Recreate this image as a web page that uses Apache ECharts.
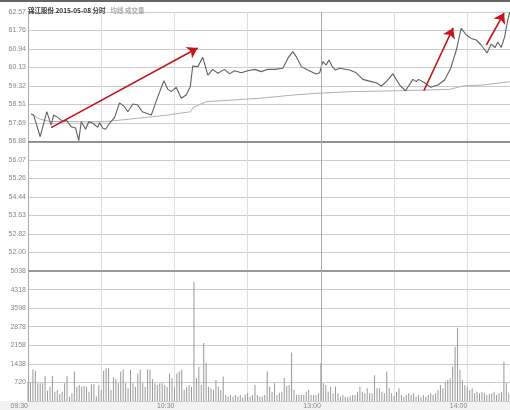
<!DOCTYPE html>
<html><head><meta charset="utf-8">
<script src="https://cdn.jsdelivr.net/npm/echarts@6/dist/echarts.min.js"></script>
<style>html,body{margin:0;padding:0;background:#fff}#c{width:510px;height:410px}</style>
</head><body><div id="c"></div>
<script>
const stockName = '锦江股份';
const tradeDate = '2015-05-08';
const titleMain = '分时';
const titleSub = '均线 成交量';
const priceTickLabels = ['', '52.00', '52.82', '53.63', '54.44', '55.26', '56.07', '56.88', '57.69', '58.51', '59.32', '60.13', '60.94', '61.76', '62.57'];
const volumeTickLabels = ['', '720', '1438', '2158', '2878', '3598', '4318', '5038'];
const timeTickMinutes = [0, 60, 120, 180];
const timeTickLabels = ['09:30', '10:30', '13:00', '14:00'];
const preClose = 56.88;
const priceMin = 51.19, priceMax = 62.57;
const volumeMax = 5038;
const lunchMinute = 120;
const xMax = 197.5;

// [minute since 09:30 (trading time), price]
const pricePoints = [[1.3,58.09],[2.3,58.04],[5.0,57.09],[7.7,58.19],[9.5,57.60],[10.5,58.04],[12.2,57.94],[14.3,57.75],[15.7,57.82],[17.7,57.53],[19.5,57.47],[20.8,56.92],[21.8,57.75],[23.6,57.42],[24.9,57.75],[26.6,57.68],[28.6,57.50],[29.3,57.71],[30.7,57.46],[31.8,57.42],[33.4,57.68],[35.5,57.94],[37.5,58.58],[39.5,58.41],[40.9,58.19],[43.0,58.53],[45.0,58.48],[46.8,58.19],[50.5,58.04],[53.2,58.85],[55.7,59.55],[57.3,59.17],[58.7,59.07],[60.7,59.26],[62.8,58.78],[64.8,58.92],[66.5,59.29],[67.5,60.20],[69.6,60.17],[71.6,60.58],[73.7,59.80],[75.7,60.05],[77.8,59.88],[80.5,60.05],[82.6,59.85],[84.6,59.99],[87.4,59.90],[90.1,59.99],[92.8,60.05],[95.6,59.95],[98.3,60.05],[101.0,60.05],[104.4,60.10],[106.5,60.54],[108.5,60.83],[109.9,60.61],[112.0,60.17],[114.0,60.05],[116.1,59.95],[118.1,59.85],[119.5,59.90],[120.8,60.39],[122.2,60.24],[123.3,60.46],[124.7,60.17],[126.0,60.02],[127.7,60.10],[131.8,60.02],[134.5,59.90],[137.2,59.61],[140.7,59.51],[142.7,59.46],[144.8,59.32],[146.8,59.51],[149.5,59.85],[152.3,59.36],[154.7,59.11],[157.7,59.61],[159.1,59.51],[160.0,59.61],[162.5,59.46],[165.0,59.26],[168.0,59.36],[170.7,59.58],[173.2,60.10],[175.5,60.90],[177.5,61.85],[179.6,61.56],[181.6,61.41],[183.7,61.34],[185.7,61.12],[188.1,60.77],[189.8,61.16],[191.4,61.01],[192.5,61.25],[193.9,61.01],[195.3,61.48],[196.6,62.22],[197.4,62.57]];

const avgPoints = [[1.3,58.09],[4.7,57.87],[8.8,57.76],[21.1,57.75],[31.4,57.75],[44.9,57.90],[57.2,58.04],[66.7,58.19],[67.6,58.37],[73.0,58.63],[83.8,58.70],[95.0,58.78],[108.4,58.92],[118.6,59.00],[131.8,59.07],[152.3,59.11],[161.7,59.14],[172.8,59.17],[178.1,59.32],[186.3,59.36],[197.4,59.51]];

// per-minute volume, minute 0 .. 197
const volumes = [
750,720,1230,1175,685,685,685,970,400,555,
970,360,430,270,360,685,970,170,300,1140,
555,620,555,580,555,360,645,660,170,620,
430,1175,1270,1270,430,920,840,685,1140,1230,
685,490,1210,685,555,1070,1210,685,555,1230,
1210,840,685,620,685,685,620,555,1070,880,
555,1070,1140,1210,430,555,620,555,4620,880,
1330,620,2250,1480,555,490,430,814,555,430,
946,230,170,230,170,230,170,230,140,250,
320,170,230,620,230,170,170,230,1140,555,
362,685,232,323,362,880,580,620,1880,430,
232,232,232,232,362,426,232,232,232,300,
1460,685,620,362,555,297,555,297,168,232,
168,142,194,232,232,362,555,362,297,491,
297,297,1000,491,491,362,300,1140,491,297,
194,362,491,232,168,232,297,232,297,168,
232,142,232,168,232,297,232,297,426,620,
491,749,814,880,1330,2100,2840,1210,814,620,
555,426,491,297,362,297,362,323,232,271,
297,362,232,297,362,1520,685,300
];

// hand-drawn red arrows: [start, tip] as [minute, price]
const arrowA = [[9.5,57.49],[69.5,60.99]];
const arrowB = [[162.2,59.11],[174.2,61.87]];
const arrowC = [[187.8,61.12],[195.1,62.53]];

const FONT = 'Liberation Sans, Arial, sans-serif';
const CJK = 'Noto Sans CJK SC, sans-serif';
const priceStep = (priceMax - priceMin) / 14;
const volStep = volumeMax / 7;

const chart = echarts.init(document.getElementById('c'));
const xCommon = (gi, showLabel) => ({
  type: 'value', gridIndex: gi, min: 0, max: xMax, interval: 30,
  axisLine: {show: false}, axisTick: {show: false},
  splitLine: {show: true, lineStyle: {color: '#dedede', width: 1}},
  axisLabel: {
    show: showLabel, fontSize: 7, color: '#888', fontFamily: FONT, margin: 2, align: 'right',
    showMaxLabel: false,
    formatter: v => { const i = timeTickMinutes.indexOf(Math.round(v)); return i >= 0 ? timeTickLabels[i] : ''; }
  }
});
chart.setOption({
  animation: false,
  backgroundColor: '#fff',
  title: {
    left: 28, top: 2, padding: 0,
    text: '{a|' + stockName + ' ' + tradeDate + ' ' + titleMain + '} {b|' + titleSub + '}',
    textStyle: {rich: {
      a: {fontSize: 6.5, color: '#333', fontFamily: CJK, lineHeight: 9},
      b: {fontSize: 6.5, color: '#aaa', fontFamily: CJK, lineHeight: 9}
    }}
  },
  graphic: [
    {type: 'rect', left: 0, top: 0, shape: {width: 510, height: 2}, style: {fill: '#666'}, silent: true},
    {type: 'rect', left: 0, top: 401, shape: {width: 510, height: 9}, style: {fill: '#f2f2f2'}, silent: true, z: -1}
  ],
  grid: [
    {left: 28, right: 0, top: 12, height: 259},
    {left: 28, right: 0, top: 271, height: 130}
  ],
  xAxis: [xCommon(0, false), xCommon(1, true)],
  yAxis: [
    {
      type: 'value', gridIndex: 0, min: priceMin, max: priceMax, interval: priceStep,
      axisLine: {show: true, lineStyle: {color: '#aaa'}}, axisTick: {show: false},
      splitLine: {lineStyle: {color: '#cccccc', width: 1}},
      axisLabel: {fontSize: 7, color: '#888', fontFamily: FONT, margin: 2,
        formatter: v => { const k = Math.round((v - priceMin) / priceStep); return priceTickLabels[k] || ''; }}
    },
    {
      type: 'value', gridIndex: 1, min: 0, max: volumeMax, interval: volStep,
      axisLine: {show: true, lineStyle: {color: '#aaa'}}, axisTick: {show: false},
      splitLine: {lineStyle: {color: '#cccccc', width: 1}},
      axisLabel: {fontSize: 7, color: '#888', fontFamily: FONT, margin: 2,
        formatter: v => { const k = Math.round(v / volStep); return volumeTickLabels[k] || ''; }}
    }
  ],
  series: [
    {
      type: 'line', name: 'avg', xAxisIndex: 0, yAxisIndex: 0, data: avgPoints,
      showSymbol: false, symbol: 'none', lineStyle: {color: '#b0b0b0', width: 1}, z: 3, silent: true
    },
    {
      type: 'line', name: 'price', xAxisIndex: 0, yAxisIndex: 0, data: pricePoints,
      showSymbol: false, symbol: 'none', lineStyle: {color: '#606060', width: 1.1}, z: 4, silent: true,
      markLine: {
        silent: true, symbol: 'none', label: {show: false}, animation: false,
        lineStyle: {color: '#8a8a8a', width: 1, type: 'solid'},
        emphasis: {disabled: true},
        data: [{yAxis: preClose, lineStyle: {color: '#777', width: 1.5}}, {xAxis: lunchMinute, lineStyle: {color: '#aaa', width: 1}}]
      }
    },
    {
      type: 'bar', name: 'vol', xAxisIndex: 1, yAxisIndex: 1,
      data: volumes.map((v, i) => [i, v]), barWidth: 1,
      itemStyle: {color: '#999999'}, silent: true, z: 3,
      markLine: {
        silent: true, symbol: 'none', label: {show: false}, animation: false,
        emphasis: {disabled: true},
        lineStyle: {type: 'solid'},
        data: [{yAxis: volumeMax, lineStyle: {color: '#999', width: 2}}, {xAxis: lunchMinute, lineStyle: {color: '#aaa', width: 1}}]
      }
    },
    {
      type: 'line', name: 'arrows', xAxisIndex: 0, yAxisIndex: 0, data: [], z: 10, silent: true,
      markLine: {
        silent: true, symbol: ['none', 'arrow'], symbolSize: 10, label: {show: false}, animation: false,
        emphasis: {disabled: true},
        lineStyle: {color: '#c4141c', width: 1.6, type: 'solid'},
        itemStyle: {color: '#d01018'},
        data: [arrowA, arrowB, arrowC].map(a => [{coord: a[0]}, {coord: a[1]}])
      }
    }
  ]
});
</script></body></html>
